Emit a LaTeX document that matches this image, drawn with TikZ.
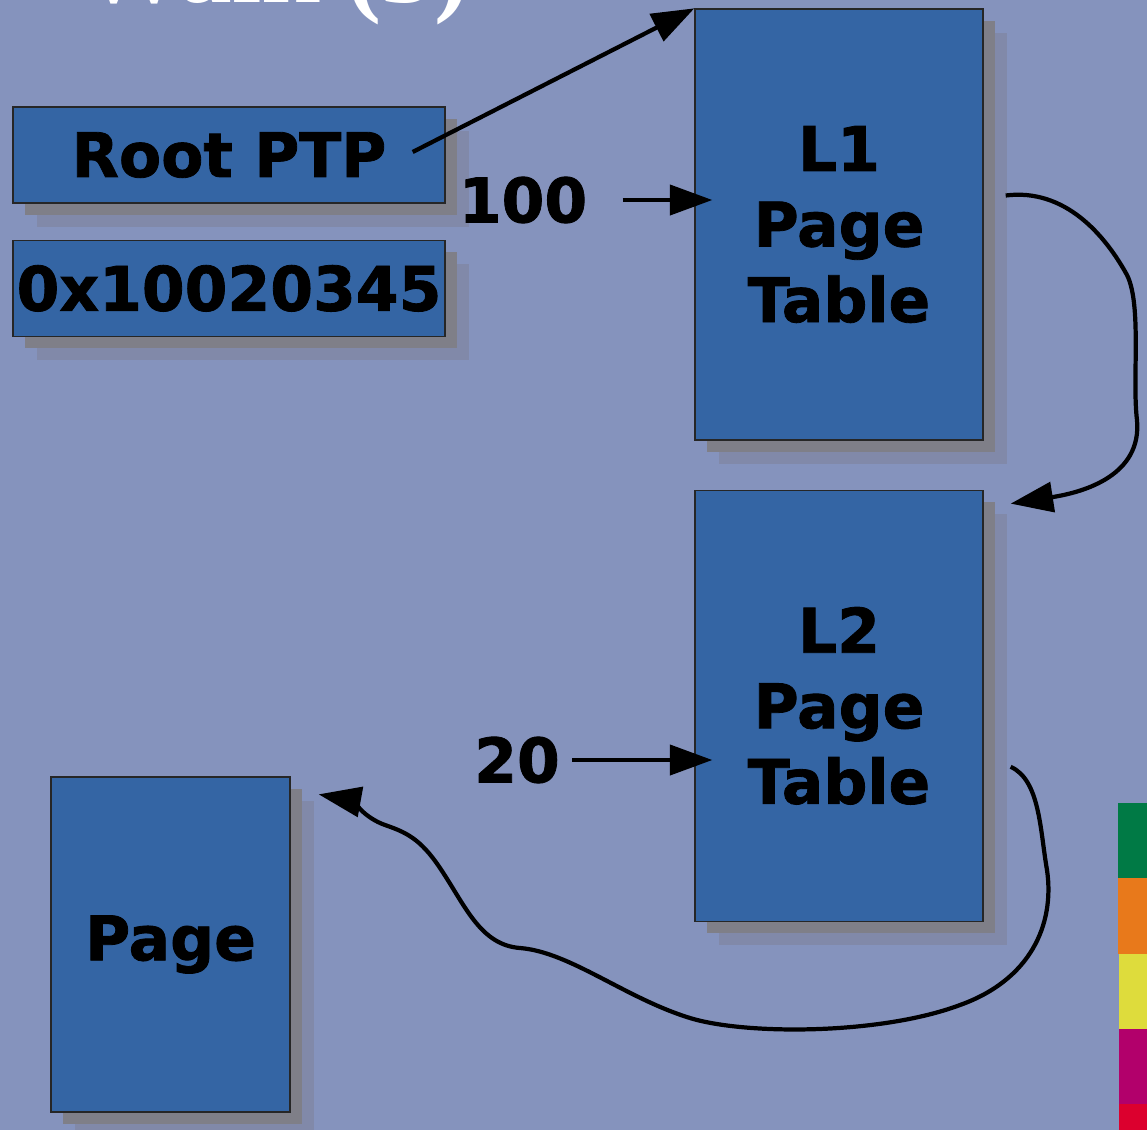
\documentclass[tikz,border=0pt]{standalone}
\usepackage{fontspec}
\setmainfont{DejaVu Sans}[BoldFeatures={FakeBold=1.3}]
\newfontfamily\titlefont{Liberation Serif Bold}
\usetikzlibrary{arrows.meta,positioning,shadows}
\definecolor{bgblue}{HTML}{8593BD}
\definecolor{boxblue}{HTML}{3465A4}
\definecolor{shadowa}{HTML}{7F7F88}
\definecolor{shadowb}{HTML}{8189A9}
\definecolor{bargreen}{HTML}{007A45}
\definecolor{barorange}{HTML}{E8791B}
\definecolor{baryellow}{HTML}{DEDC3C}
\definecolor{barmagenta}{HTML}{B2006B}
\definecolor{barred}{HTML}{DC002E}

\begin{document}
\begin{tikzpicture}[
  x=0.02cm, y=-0.02cm,
  font=\bfseries\fontsize{35}{43}\selectfont,
  n/.style={draw=black!85, line width=0.8pt, fill=boxblue, align=center, inner sep=0pt,
    general shadow={fill=shadowb, shadow xshift=0.48cm, shadow yshift=-0.48cm},
    general shadow={fill=shadowa, shadow xshift=0.24cm, shadow yshift=-0.24cm}},
  wide/.style={minimum width=8.64cm, minimum height=1.92cm},
  tall/.style={minimum width=5.76cm, minimum height=8.62cm},
  lbl/.style={inner sep=0pt},
  arr/.style={-{Triangle[length=0.85cm,width=0.6cm]}, line width=2.4pt}
]
\useasboundingbox (0,0) rectangle (1147,1130);
\fill[bgblue] (0,0) rectangle (1147,1130);

% title, cut by the page edge
\node[anchor=base west, inner sep=0pt, text=white, font=\titlefont\fontsize{60}{60}\selectfont] (ttl) at (80,2) {Walk (3)};

\node[n, wide] (rt) at (229,155) {Root PTP};
\node[n, wide, below=0.72cm of rt] (addr) {0x10020345};
\node[n, tall] (l1) at (839,224.5) {L1\\Page\\Table};
\node[n, tall, below=0.98cm of l1] (l2) {L2\\Page\\Table};
\node[n, minimum width=4.78cm, minimum height=6.7cm] (pg) at (170.5,944.5) {Page};
\node[lbl] (n100) at (523,200) {100};
\node[lbl] (n20) at (517,760) {20};

\draw[arr] ([shift={(-33,-3)}]rt.east) -- (l1.north west);
\draw[arr] ([xshift=0.7cm]n100.east) -- ([xshift=0.36cm]l1.west |- n100.east);
\draw[arr] ([xshift=0.24cm]n20.east) -- ([xshift=0.36cm]l2.west |- n20.east);
\draw[arr] ([shift={(22,-29)}]l1.east) .. controls (1065,188) and (1105,235) .. (1127,275)
  .. controls (1142,305) and (1132,380) .. (1137,420)
  .. controls (1142,475) and (1085,492) .. ([shift={(27,14)}]l2.north east);
\draw[arr] ([shift={(27,61)}]l2.east) .. controls (1040,780) and (1040,830) .. (1047,870)
  .. controls (1055,925) and (1030,980) .. (960,1005)
  .. controls (880,1035) and (745,1035) .. (690,1018)
  .. controls (625,998) and (570,952) .. (520,948)
  .. controls (480,945) and (465,905) .. (440,868)
  .. controls (420,838) and (405,832) .. (385,825)
  .. controls (365,818) and (350,800) .. ([shift={(28,18)}]pg.north east);

% colour strip at the right edge
\fill[bargreen] (1118,803) rectangle (1147,878);
\fill[barorange] (1118,878) rectangle (1147,954);
\fill[baryellow] (1119,954) rectangle (1147,1029);
\fill[barmagenta] (1119,1029) rectangle (1147,1104);
\fill[barred] (1119,1104) rectangle (1147,1130);
\end{tikzpicture}
\end{document}
